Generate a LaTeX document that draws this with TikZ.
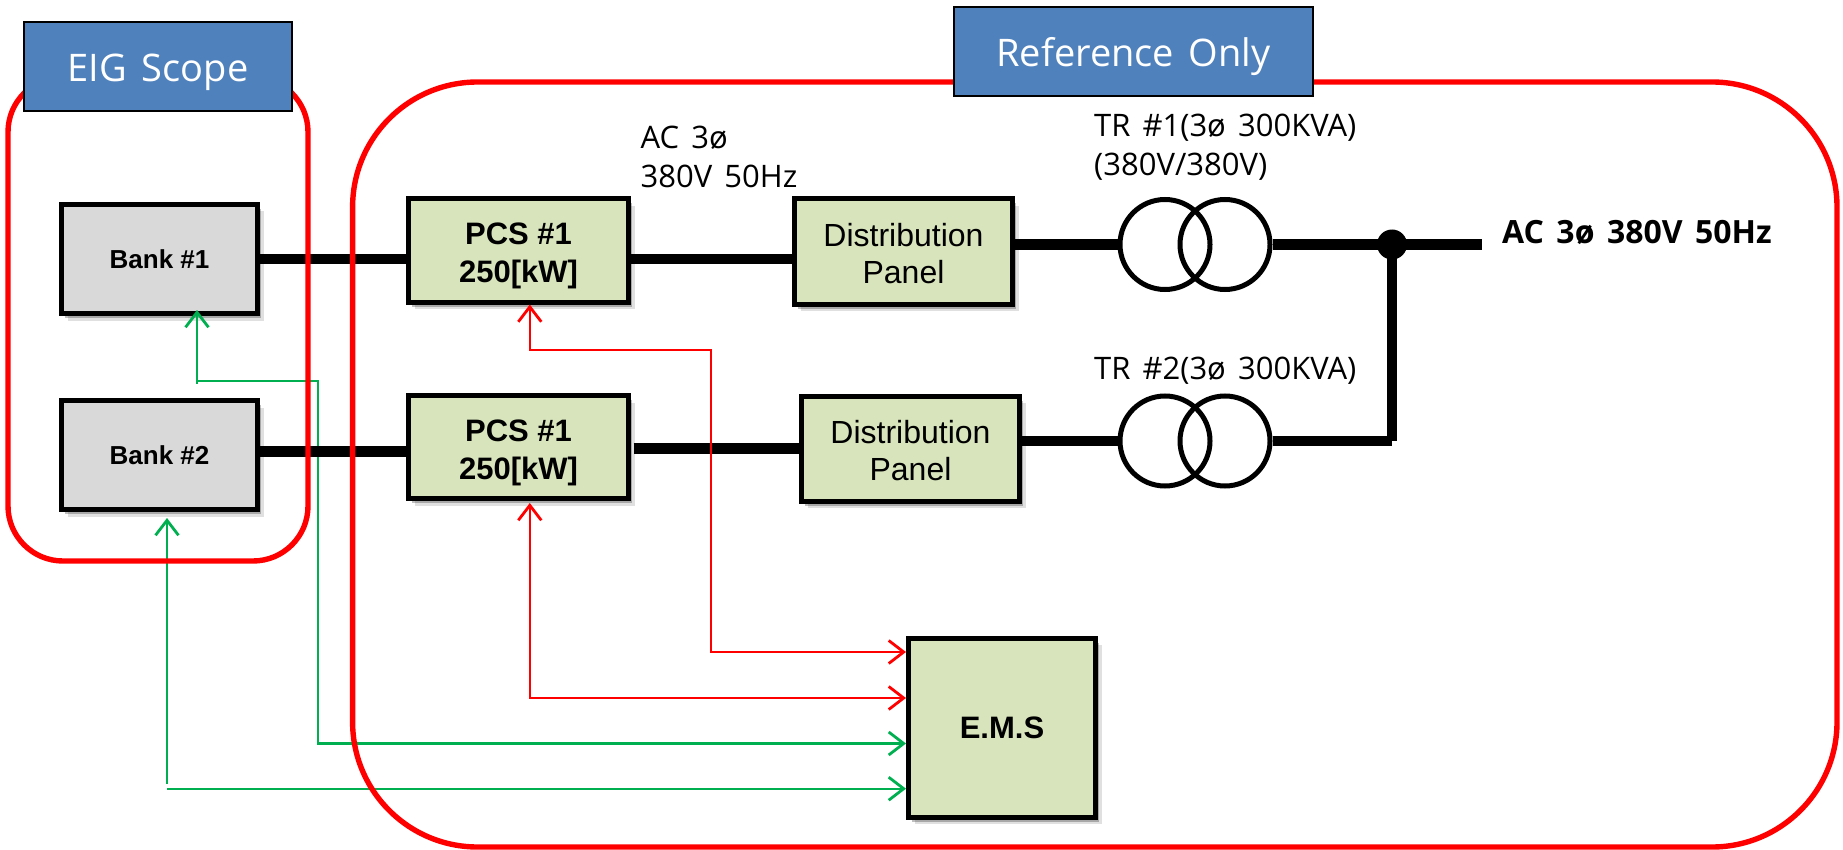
\documentclass[tikz,border=0pt]{standalone}
\usepackage{fontspec}
\setmainfont[WordSpace=1.5]{Open Sans}
\newfontfamily\arialfont{Liberation Sans}
\usepackage{tikz}
\usetikzlibrary{positioning, shadows, arrows.meta}
\definecolor{panelgreen}{HTML}{D8E4BC}
\definecolor{tagblue}{HTML}{4F81BD}
\definecolor{linkgreen}{HTML}{00B050}

\begin{document}
\begin{tikzpicture}[x=1pt, y=-1pt,
        softshade/.style={drop shadow={shadow xshift=6pt, shadow yshift=-7pt, opacity=0.12, fill=black}, drop shadow={shadow xshift=3.5pt, shadow yshift=-4.5pt, opacity=0.25, fill=black}},
        bankbox/.style={rectangle, draw=black, fill=black!15, line width=5pt, minimum width=196pt, minimum height=109pt, softshade, font=\arialfont\bfseries\fontsize{26}{30}\selectfont},
        pcsbox/.style={rectangle, draw=black, fill=panelgreen, line width=5pt, minimum width=220pt, minimum height=103pt, softshade, align=center, font=\arialfont\bfseries\fontsize{31}{38}\selectfont},
        emsbox/.style={rectangle, draw=black, fill=panelgreen, line width=5pt, minimum width=187pt, minimum height=179pt, softshade, font=\arialfont\bfseries\fontsize{31}{37}\selectfont},
        distbox/.style={rectangle, draw=black, fill=panelgreen, line width=5pt, minimum width=218pt, minimum height=105pt, softshade, align=center, font=\arialfont\fontsize{32}{37.5}\selectfont},
        coil/.style={circle, draw=black, line width=5pt, inner sep=0pt, minimum size=90pt},
        frame/.style={rectangle, draw=red, line width=5.4pt, rounded corners=#1},
        tag/.style={rectangle, draw=black, fill=tagblue, line width=2.5pt, minimum height=89pt, text=white, text height=36pt, text depth=5.4pt, font=\fontsize{38}{44}\selectfont},
        note/.style={anchor=west, align=left, inner sep=0pt, font=\fontsize{31}{39}\selectfont},
        bus/.style={line width=10.8pt},
        greenlink/.style={draw=linkgreen, line width=2.4pt},
        redlink/.style={draw=red, line width=2.4pt},
        barb/.tip={Straight Barb[length=15pt, width=23pt, line width=2.8pt]}]
        \useasboundingbox (0,0) rectangle (1843,850);

        \node (bank1) [bankbox] at (159.5,259) {Bank \#1};
        \node (bank2) [bankbox, below=82pt of bank1] {Bank \#2};
        \node (pcs1) [pcsbox, right=146pt of bank1, yshift=8.5pt] {\rule{0pt}{33pt}PCS \#1\\250[kW]};
        \node (pcs2) [pcsbox, right=146pt of bank2, yshift=8pt] {\rule{0pt}{33pt}PCS \#1\\250[kW]};
        \node (dist1) [distbox, right=161pt of pcs1, yshift=-1pt] {\rule{0pt}{27pt}Distribution\\Panel};
        \node (dist2) [distbox, right=168pt of pcs2, yshift=-1.5pt] {\rule{0pt}{27pt}Distribution\\Panel};
        \node (ems) [emsbox] at (1002,727.5) {E.M.S};
        \node (t1a) [coil] at (1165,244.5) {};
        \node (t1b) [coil, xshift=60pt] at (t1a) {};
        \node (t2a) [coil] at (1165,441) {};
        \node (t2b) [coil, xshift=60pt] at (t2a) {};
        \node (joint) [circle, fill=black, inner sep=0pt, minimum size=30pt] at (1392,244.5) {};
        \coordinate (busend) at (1482,244.5);
        \coordinate (buscorner) at (1392,441);

        \node (acout) [note, font=\bfseries\fontsize{32}{38}\selectfont] at (1502,232) {AC 3ø 380V 50Hz};
        \node (acmid) [note] at (640.5,157) {AC 3ø\\380V 50Hz};
        \node (tr1) [note] at (1094,147) {TR \#1(3ø 300KVA)\\(380V/380V)};
        \node (tr2) [note] at (1094,370.5) {TR \#2(3ø 300KVA)};

        \coordinate (g1start) at (197,384);
        \coordinate (g1knee) at (197,380.7);
        \coordinate (g1drop) at (318,380.7);
        \coordinate (g2start) at (167,784);
        \coordinate (g2knee) at (167,788.7);
        \coordinate (r1b) at (711,350);
        \coordinate (r1c) at (711,652);
        \coordinate (r2a) at (530,698);

        \draw[greenlink, -{barb}] (g1start) -- ([xshift=37.5pt, yshift=6pt]bank1.south);
        \draw[greenlink, -{barb}] (g1knee) -- (g1drop) |- ([yshift=-16pt]ems.west);
        \draw[greenlink, -{barb}] (g2start) -- ([xshift=7.5pt, yshift=-6pt]bank2.south);
        \draw[greenlink, -{barb}] (g2knee) -- (g2knee -| ems.west);

        \draw[bus] (bank1.east) -- (bank1.east -| pcs1.west);
        \draw[bus] ([yshift=3.5pt]bank2.east) -- ([yshift=3.5pt]bank2.east -| pcs2.west);
        \draw[bus] (bank1.east -| pcs1.east) -- (bank1.east -| dist1.west);
        \draw[bus] ([xshift=2.5pt, yshift=-1.5pt]pcs2.east) -- ([yshift=-1.5pt]pcs2.east -| dist2.west);
        \draw[bus] (t1a.west -| dist1.east) -- (t1a.west);
        \draw[bus] (t2a.west -| dist2.east) -- (t2a.west);
        \draw[bus] (t1b.east) -- (joint.center);
        \draw[bus] (joint.center) -- (busend);
        \draw[bus] (t2b.east) -- (buscorner);
        \draw[bus] (joint.center) -- (buscorner);

        \draw[redlink, {barb}-{barb}] ([xshift=11.3pt]pcs1.south) |- (r1b) -- (r1c) -- (r1c -| ems.west);
        \draw[redlink, {barb}-{barb}] ([xshift=11.3pt, yshift=-2pt]pcs2.south) |- (r2a -| ems.west);

        \node (eigframe) [frame=55pt, minimum width=300pt, minimum height=484pt] at (158,319) {};
        \node (refframe) [frame=125pt, minimum width=1484.4pt, minimum height=765pt] at (1094.8,464.5) {};
        \node (eigtag) [tag, minimum width=268pt] at (158,66.7) {EIG Scope};
        \node (reftag) [tag, minimum width=359pt] at (1133.5,51.7) {Reference Only};
\end{tikzpicture}
\end{document}
